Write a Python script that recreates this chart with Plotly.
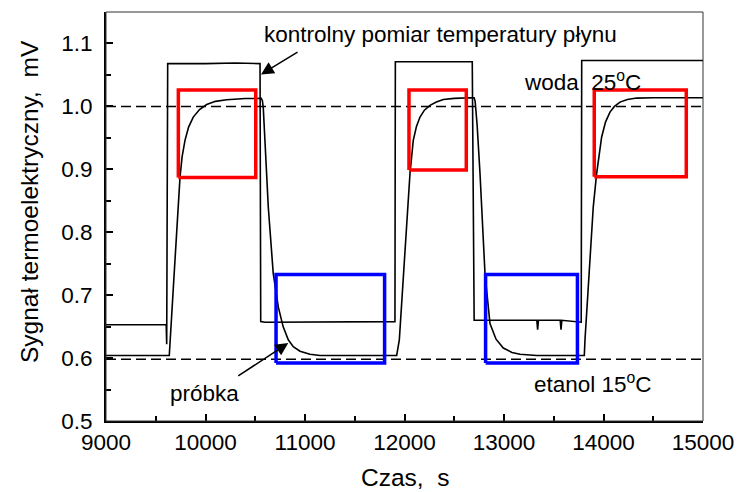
import plotly.graph_objects as go

# ---------------- data ----------------
control_t = [9000, 9605, 9610, 9620, 10000, 10300, 10548, 10555, 10600, 11000, 11500, 11904,
             11908, 12300, 12681, 12700, 13000, 13330, 13338, 13346, 13565, 13573, 13581,
             13776, 13781, 14500, 15000]
control_v = [0.653, 0.653, 0.622, 1.068, 1.068, 1.069, 1.068, 0.658, 0.657, 0.657, 0.658, 0.658,
             1.071, 1.071, 1.071, 0.660, 0.660, 0.660, 0.645, 0.660, 0.660, 0.645, 0.660,
             0.657, 1.073, 1.073, 1.073]

sample_t = [9000, 9636, 9676, 9700, 9720, 9744, 9765, 9794, 9830, 9877, 9940, 10012, 10100, 10213,
            10400, 10560, 10572, 10581, 10631, 10681, 10732, 10780, 10832, 10882, 10950, 11050,
            11150, 11500, 11921,
            11948, 11988, 12028, 12055, 12088, 12120, 12156, 12200, 12256, 12320, 12390, 12500,
            12658, 12700, 12710, 12730, 12759, 12809, 12859, 12920, 12993, 13080, 13161, 13328,
            13600, 13807,
            13814, 13857, 13897, 13931, 13981, 14020, 14065, 14110, 14166, 14240, 14333, 14500,
            14700, 15000]
sample_v = [0.604, 0.604, 0.710, 0.771, 0.824, 0.888, 0.920, 0.946, 0.967, 0.983, 0.995, 1.003, 1.008, 1.0106,
            1.0125, 1.0127, 1.009, 0.997, 0.840, 0.734, 0.681, 0.650, 0.629, 0.618, 0.611, 0.606,
            0.604, 0.604, 0.604,
            0.629, 0.734, 0.840, 0.893, 0.946, 0.968, 0.983, 0.994, 1.0016, 1.007, 1.011, 1.0128,
            1.0138, 1.0135, 1.008, 0.970, 0.893, 0.734, 0.655, 0.630, 0.616, 0.609, 0.606, 0.604,
            0.604, 0.604,
            0.629, 0.734, 0.840, 0.893, 0.951, 0.975, 0.991, 1.000, 1.0068, 1.011, 1.0132, 1.0137,
            1.0138, 1.0138]

ref_levels = [1.0, 0.598]          # woda 25 C, etanol 15 C
x_range = [9000, 15000]

# boxes: x0, x1, y0, y1
red_x0 = [9727, 12045, 13907]
red_x1 = [10505, 12621, 14832]
red_y0 = [0.887, 0.899, 0.888]
red_y1 = [1.026, 1.026, 1.026]

blue_x0 = [10709, 12815]
blue_x1 = [11800, 13738]
blue_y0 = [0.592, 0.592]
blue_y1 = [0.733, 0.733]

FONT = "Liberation Sans, Arial, sans-serif"
FS = 22.5
FS_TITLE = 24.5

fig = go.Figure()

for lvl in ref_levels:
    fig.add_trace(go.Scatter(x=x_range, y=[lvl, lvl], mode="lines",
                             line=dict(color="black", width=1.5, dash="10px,5px"),
                             showlegend=False, hoverinfo="skip"))

fig.add_trace(go.Scatter(x=control_t, y=control_v, mode="lines",
                         line=dict(color="black", width=1.6), showlegend=False))
fig.add_trace(go.Scatter(x=sample_t, y=sample_v, mode="lines",
                         line=dict(color="black", width=1.6), showlegend=False))

def add_boxes(x0s, x1s, y0s, y1s, color):
    for a, b, c, d in zip(x0s, x1s, y0s, y1s):
        fig.add_trace(go.Scatter(x=[a, b, b, a, a], y=[c, c, d, d, c], mode="lines",
                                 line=dict(color=color, width=3.5),
                                 showlegend=False, hoverinfo="skip"))

add_boxes(red_x0, red_x1, red_y0, red_y1, "#ff0000")
add_boxes(blue_x0, blue_x1, blue_y0, blue_y1, "#0000ff")

# frame top/right (thin)
fig.add_shape(type="rect", xref="paper", yref="paper", x0=0, x1=1, y0=0, y1=1,
              line=dict(color="#333", width=1), layer="above")

tf = dict(family=FONT, size=FS, color="black")
tt = dict(family=FONT, size=FS_TITLE, color="black")

fig.add_annotation(x=10568, y=1.114, text="kontrolny pomiar temperatury płynu",
                   showarrow=False, xanchor="left", yanchor="middle", font=tf)
fig.add_annotation(x=10558, y=1.0508, ax=10940, ay=1.0878, axref="x", ayref="y",
                   text="", showarrow=True, arrowhead=2, arrowsize=1.7, arrowwidth=1.5,
                   arrowcolor="black")
fig.add_annotation(x=13178, y=1.041, text="woda\u00a0 25<sup>o</sup>C",
                   showarrow=False, xanchor="left", yanchor="middle", font=tf)
fig.add_annotation(x=9623, y=0.544, text="próbka",
                   showarrow=False, xanchor="left", yanchor="middle", font=tf)
fig.add_annotation(x=10832, y=0.624, ax=10314, ay=0.570, axref="x", ayref="y",
                   text="", showarrow=True, arrowhead=2, arrowsize=1.7, arrowwidth=1.5,
                   arrowcolor="black")
fig.add_annotation(x=13281, y=0.560, text="etanol 15<sup>o</sup>C",
                   showarrow=False, xanchor="left", yanchor="middle", font=tf)

# axis titles
fig.add_annotation(xref="paper", yref="paper", x=(405 - 106) / 597, y=(421 - 477) / 409,
                   text="Czas,\u00a0 s",
                   showarrow=False, xanchor="center", yanchor="middle", font=tt)
fig.add_annotation(xref="paper", yref="paper", x=(29 - 106) / 597, y=(421 - 202) / 409,
                   text="Sygnał termoelektryczny,\u00a0 mV", textangle=-90,
                   showarrow=False, xanchor="center", yanchor="middle", font=tt)

fig.update_layout(
    width=740, height=492,
    margin=dict(l=106, r=37, t=12, b=71, autoexpand=False),
    plot_bgcolor="white", paper_bgcolor="white",
    font=tf,
    xaxis=dict(range=x_range, tickvals=[9000, 10000, 11000, 12000, 13000, 14000, 15000],
               tickformat="d", ticks="inside", ticklen=7, tickwidth=1.5, automargin=False,
               tickcolor="black", showgrid=False, zeroline=False, showline=True,
               linecolor="black", linewidth=2, tickfont=tf, ticklabelstandoff=0,
               minor=dict(tickvals=[9500, 10500, 11500, 12500, 13500, 14500], ticks="inside",
                          ticklen=5, tickwidth=1.5, tickcolor="black")),
    yaxis=dict(range=[0.5, 1.15], tickvals=[0.5, 0.6, 0.7, 0.8, 0.9, 1.0, 1.1],
               tickformat=".1f", ticks="inside", ticklen=7, tickwidth=1.5, tickcolor="black",
               showgrid=False, zeroline=False, showline=True, linecolor="black", linewidth=2,
               tickfont=tf, ticklabelstandoff=7, automargin=False,
               minor=dict(tickvals=[0.55, 0.65, 0.75, 0.85, 0.95, 1.05], ticks="inside",
                          ticklen=5, tickwidth=1.5, tickcolor="black")),
)

fig.write_html("out.html", config={"displayModeBar": False},
               post_script="document.body.style.margin='0px';document.body.style.padding='0px';")
